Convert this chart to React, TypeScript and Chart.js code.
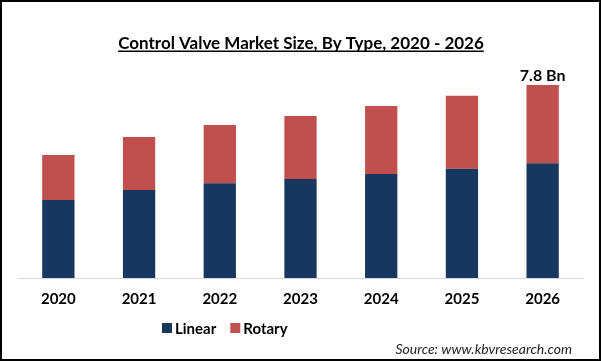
import React, { useEffect, useRef } from "react";
import { Chart, registerables } from "chart.js";

Chart.register(...registerables);

const years = ["2020", "2021", "2022", "2023", "2024", "2025", "2026"];
const linear = [3.15, 3.56, 3.83, 4.0, 4.2, 4.41, 4.64];
const rotary = [1.82, 2.14, 2.35, 2.55, 2.75, 2.95, 3.16];
const seriesNames = ["Linear", "Rotary"];
const seriesColors = ["#17375E", "#C0504D"];
const titleText = "Control Valve Market Size, By Type, 2020 - 2026";
const lastLabel = "7.8 Bn";
const sourceText = "Source: www.kbvresearch.com";

const FONT = "Lato, 'Open Sans', sans-serif";

const decorPlugin = {
  id: "decor",
  afterDraw(chart: any) {
    const ctx = chart.ctx as CanvasRenderingContext2D;
    const W = chart.width;
    const H = chart.height;
    ctx.save();
    // border
    ctx.strokeStyle = "#000";
    ctx.lineWidth = 2;
    ctx.strokeRect(1, 1, W - 2, H - 2);

    // title
    ctx.fillStyle = "#000";
    ctx.font = `bold 17px ${FONT}`;
    ctx.textAlign = "center";
    ctx.textBaseline = "alphabetic";
    const tw = ctx.measureText(titleText).width;
    const tx = 301;
    ctx.fillText(titleText, tx, 49);
    ctx.fillRect(tx - tw / 2, 50.5, tw, 1.5);

    // label above last bar
    const meta = chart.getDatasetMeta(1);
    const el = meta.data[meta.data.length - 1];
    if (el) {
      ctx.font = `bold 16px ${FONT}`;
      ctx.textAlign = "center";
      ctx.textBaseline = "alphabetic";
      ctx.fillText(lastLabel, el.x, el.y - 4);
    }

    // legend
    ctx.font = `bold 15px ${FONT}`;
    ctx.textBaseline = "middle";
    ctx.textAlign = "left";
    let x = 162;
    const ly = 328;
    seriesNames.forEach((name, i) => {
      ctx.fillStyle = seriesColors[i];
      ctx.fillRect(x, ly - 5, 10, 10);
      ctx.fillStyle = "#000";
      ctx.fillText(name, x + 13, ly + 1);
      x += 13 + ctx.measureText(name).width + 14;
    });

    // source
    ctx.font = `italic 14px ${FONT}`;
    ctx.textAlign = "right";
    ctx.textBaseline = "middle";
    ctx.fillStyle = "#222";
    ctx.fillText(sourceText, 572, 349);
    ctx.restore();
  },
};

export default function App() {
  const ref = useRef<HTMLCanvasElement | null>(null);
  useEffect(() => {
    document.body.style.margin = "0";
    if (!ref.current) return;
    const chart = new Chart(ref.current, {
      type: "bar",
      data: {
        labels: years,
        datasets: [
          {
            label: seriesNames[0],
            data: linear,
            backgroundColor: seriesColors[0],
            barPercentage: 0.4,
            categoryPercentage: 1,
          },
          {
            label: seriesNames[1],
            data: rotary,
            backgroundColor: seriesColors[1],
            barPercentage: 0.4,
            categoryPercentage: 1,
          },
        ],
      },
      options: {
        responsive: false,
        animation: false,
        layout: { padding: { top: 80, left: 18, right: 18, bottom: 53 } },
        plugins: {
          legend: { display: false },
          title: { display: false },
          tooltip: { enabled: false },
        },
        scales: {
          x: {
            stacked: true,
            grid: { display: false, drawTicks: false },
            border: { display: true, color: "#D9D9D9", width: 1 },
            ticks: {
              color: "#000",
              font: { family: FONT, size: 15, weight: "bold" },
              padding: 12,
            },
            afterFit(scale: any) {
              scale.height = 30;
            },
          },
          y: {
            stacked: true,
            display: false,
            min: 0,
            max: 8,
          },
        },
      },
      plugins: [decorPlugin],
    });
    return () => chart.destroy();
  }, []);
  return (
    <canvas
      ref={ref}
      width={601}
      height={361}
      style={{ display: "block", width: 601, height: 361 }}
    />
  );
}
